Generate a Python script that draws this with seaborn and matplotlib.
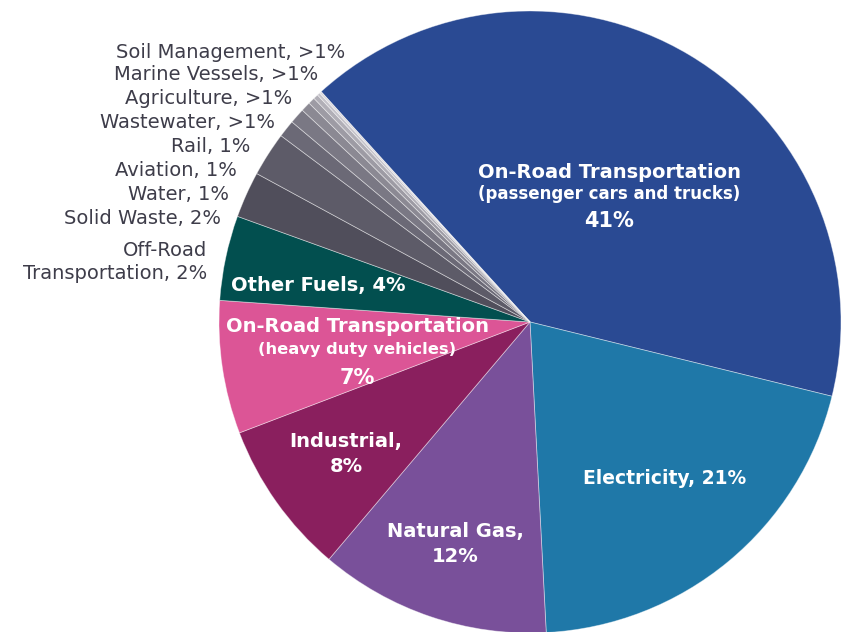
import matplotlib
matplotlib.use("Agg")
import matplotlib.pyplot as plt
import seaborn as sns

# slice order, clockwise from the top
sectors = [
    "On-Road Transportation (passenger cars and trucks)",
    "Electricity", "Natural Gas", "Industrial",
    "On-Road Transportation (heavy duty vehicles)", "Other Fuels",
    "Off-Road Transportation", "Solid Waste", "Water", "Aviation", "Rail",
    "Wastewater", "Agriculture", "Marine Vessels", "Soil Management",
]
shares = [40.5, 20.3, 12.0, 8.0, 6.9, 4.4, 2.4, 2.3, 0.9, 0.8, 0.5, 0.35, 0.25, 0.15, 0.1]
colors = [
    "#2a4a93", "#1f78a8", "#79509a", "#8a1f5e", "#dc5596", "#024f4f",
    "#504e5b", "#5d5b68", "#6b6976", "#7a7884", "#8b8993", "#9d9ba4",
    "#b1afb7", "#c5c3ca", "#d8d6db",
]

# labels drawn on the slices
inner_labels = [
    ["On-Road Transportation", "(passenger cars and trucks)", "41%"],
    ["Electricity, 21%"],
    ["Natural Gas,", "12%"],
    ["Industrial,", "8%"],
    ["On-Road Transportation", "(heavy duty vehicles)", "7%"],
    ["Other Fuels, 4%"],
]
# labels listed to the left for the small slices
outer_labels = [
    "Off-Road\nTransportation, 2%", "Solid Waste, 2%", "Water, 1%", "Aviation, 1%",
    "Rail, 1%", "Wastewater, >1%", "Agriculture, >1%", "Marine Vessels, >1%",
    "Soil Management, >1%",
]

W, H = 850, 632
sns.set_theme(style="white")
plt.rcParams["font.family"] = ["DejaVu Sans"]

fig = plt.figure(figsize=(W / 100, H / 100), dpi=100)
cx, cy, r = 530, 322, 311
ax = fig.add_axes([(cx - r) / W, (H - cy - r) / H, 2 * r / W, 2 * r / H])
ax.pie(shares, colors=colors, startangle=132.2, counterclock=False,
       wedgeprops=dict(edgecolor=(1, 1, 1, 0.45), linewidth=0.6))
ax.set_xlim(-1, 1)
ax.set_ylim(-1, 1)
ax.axis("off")


def put(x, y, s, **kw):
    fig.text(x / W, 1 - y / H, s, **kw)


white = dict(color="white", fontweight="bold", ha="center", va="center")

# passenger cars
put(609, 172, inner_labels[0][0], fontsize=14, **white)
put(609, 194, inner_labels[0][1], fontsize=12, **white)
put(609, 221, inner_labels[0][2], fontsize=15, **white)
put(665, 479, inner_labels[1][0], fontsize=13.5, **white)
put(455, 532, inner_labels[2][0], fontsize=14, **white)
put(455, 557, inner_labels[2][1], fontsize=14, **white)
put(346, 441, inner_labels[3][0], fontsize=14, **white)
put(346, 466, inner_labels[3][1], fontsize=14, **white)
put(357, 327, inner_labels[4][0], fontsize=14, **white)
put(357, 350, inner_labels[4][1], fontsize=11.7, **white)
put(357, 378, inner_labels[4][2], fontsize=15, **white)
put(318, 285, inner_labels[5][0], fontsize=14, **white)

grey = dict(color="#3e3d4a", fontsize=14, ha="right", va="center")
outer_pos = [(207, 262), (221, 218), (229, 195), (237, 171), (250, 147),
             (275, 123), (292, 99), (318, 75), (345, 52)]
for (x, y), s in zip(outer_pos, outer_labels):
    put(x, y, s, multialignment="right", linespacing=1.3, **grey)

fig.savefig("out.png", dpi=100)
